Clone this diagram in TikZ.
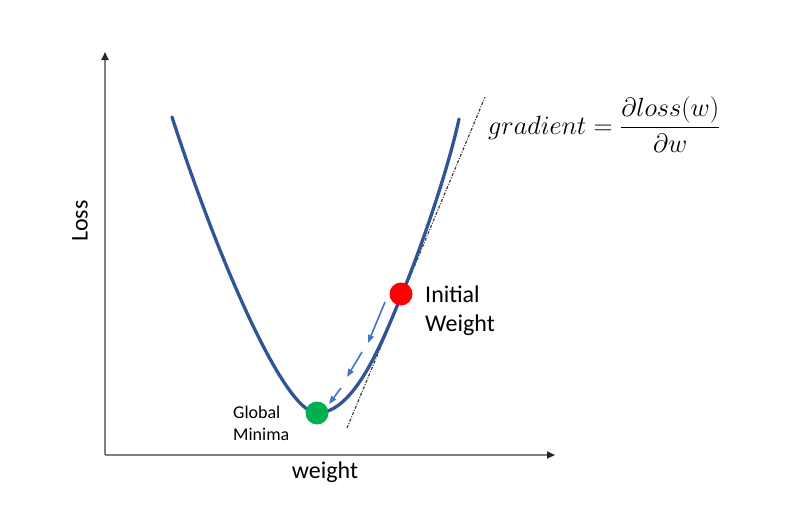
\documentclass[tikz,border=0pt]{standalone}
\usepackage{fontspec}
\setmainfont{Carlito}
\usetikzlibrary{arrows.meta}
\definecolor{curveblue}{HTML}{2F5597}
\definecolor{stepblue}{HTML}{4472C4}
\definecolor{axisgray}{HTML}{7F7F7F}
\definecolor{dotred}{HTML}{FF0000}
\definecolor{dotgreen}{HTML}{00B050}
\tikzset{
  axisline/.style={draw=axisgray, line width=1.9pt, -{Triangle[length=8pt,width=7pt,color=black!85]}},
  lossline/.style={draw=curveblue, line width=3.3pt, line cap=round},
  tangentline/.style={draw=black!75, line width=1.2pt, dash pattern=on 3pt off 1.5pt on 1pt off 1.5pt},
  stepline/.style={draw=stepblue, line width=1.6pt, -{Triangle[length=8pt,width=6pt]}},
  dotmark/.style={circle, minimum size=23pt, inner sep=0pt},
  bigtext/.style={font=\fontsize{24}{29}\selectfont, inner sep=0pt},
  smalltext/.style={font=\fontsize{18}{22}\selectfont, inner sep=0pt}
}
\begin{document}
\begin{tikzpicture}[x=1pt,y=-1pt]
\path[use as bounding box] (0,0) rectangle (798,504);
% axes
\coordinate (O) at (105,455);
\coordinate (ytop) at (105,52);
\coordinate (xend) at (555,455);
\draw[axisline] (O) -- (ytop);
\draw[axisline] (O) -- (xend);
% tangent
\coordinate (tA) at (347,428);
\coordinate (tB) at (485,97);
\draw[tangentline] (tA) -- (tB);
% loss curve
\coordinate (cL) at (172,117);
\coordinate (cM) at (317,413);
\coordinate (cI) at (402,294);
\coordinate (cR) at (459,119);
\draw[lossline] (cL) .. controls (220,265) and (285,413) .. (cM)
  .. controls (355,413) and (383,340) .. (cI)
  .. controls (421,248) and (448,170) .. (cR);
% step arrows
\coordinate (s1a) at (385,302); \coordinate (s1b) at (368,343);
\coordinate (s2a) at (362,352); \coordinate (s2b) at (347,377);
\coordinate (s3a) at (341,388); \coordinate (s3b) at (329,404);
\draw[stepline] (s1a) -- (s1b);
\draw[stepline] (s2a) -- (s2b);
\draw[stepline] (s3a) -- (s3b);
% dots
\node[dotmark, fill=dotred] (init) at (401,294) {};
\node[dotmark, fill=dotgreen] (gmin) at (317,413) {};
% labels
\node[bigtext, anchor=west, align=left] (initlbl) at (425,311) {Initial\\Weight};
\node[smalltext, anchor=west, align=left] (gminlbl) at (233,423) {Global\\Minima};
\node[bigtext, rotate=90] (losslbl) at (80,221) {Loss};
\node[bigtext, anchor=base] (wlbl) at (325,478) {weight};
\node[anchor=base west, inner sep=0pt, font=\fontsize{24.88}{30}\selectfont] (grad) at (488,134)
  {\scalebox{1.06}{$\displaystyle gradient=\frac{\partial loss(w)}{\partial w}$}};
\end{tikzpicture}
\end{document}
